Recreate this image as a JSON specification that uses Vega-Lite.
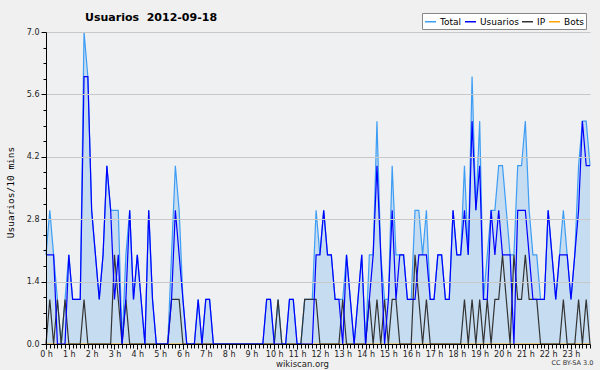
{
  "$schema": "https://vega.github.io/schema/vega-lite/v6.json",
  "width": 544,
  "height": 312,
  "autosize": {"type": "none"},
  "padding": {"left": 46, "top": 32, "right": 10, "bottom": 26},
  "background": "#f0f0f0",
  "config": {
    "view": {"fill": "#eef0f2", "stroke": null},
    "font": "DejaVu Sans"
  },
  "title": {
    "text": "Usuarios\u00a0 2012-09-18",
    "anchor": "start",
    "frame": "group",
    "dx": 39,
    "dy": 19,
    "offset": 9,
    "fontSize": 11,
    "font": "DejaVu Sans",
    "fontWeight": "bold",
    "color": "#000000"
  },
  "data": {
    "values": [
      {"t":0,"Total":2,"Usuarios":2,"IP":0,"Bots":0},
      {"t":1,"Total":3,"Usuarios":2,"IP":1,"Bots":0},
      {"t":2,"Total":2,"Usuarios":2,"IP":0,"Bots":0},
      {"t":3,"Total":1,"Usuarios":0,"IP":1,"Bots":0},
      {"t":4,"Total":0,"Usuarios":0,"IP":0,"Bots":0},
      {"t":5,"Total":1,"Usuarios":0,"IP":1,"Bots":0},
      {"t":6,"Total":2,"Usuarios":2,"IP":0,"Bots":0},
      {"t":7,"Total":1,"Usuarios":1,"IP":0,"Bots":0},
      {"t":8,"Total":1,"Usuarios":1,"IP":0,"Bots":0},
      {"t":9,"Total":1,"Usuarios":1,"IP":0,"Bots":0},
      {"t":10,"Total":7,"Usuarios":6,"IP":1,"Bots":0},
      {"t":11,"Total":6,"Usuarios":6,"IP":0,"Bots":0},
      {"t":12,"Total":3,"Usuarios":3,"IP":0,"Bots":0},
      {"t":13,"Total":2,"Usuarios":2,"IP":0,"Bots":0},
      {"t":14,"Total":1,"Usuarios":1,"IP":0,"Bots":0},
      {"t":15,"Total":2,"Usuarios":2,"IP":0,"Bots":0},
      {"t":16,"Total":4,"Usuarios":4,"IP":0,"Bots":0},
      {"t":17,"Total":3,"Usuarios":3,"IP":0,"Bots":0},
      {"t":18,"Total":3,"Usuarios":1,"IP":2,"Bots":0},
      {"t":19,"Total":3,"Usuarios":2,"IP":1,"Bots":0},
      {"t":20,"Total":0,"Usuarios":0,"IP":0,"Bots":0},
      {"t":21,"Total":2,"Usuarios":1,"IP":1,"Bots":0},
      {"t":22,"Total":3,"Usuarios":3,"IP":0,"Bots":0},
      {"t":23,"Total":1,"Usuarios":1,"IP":0,"Bots":0},
      {"t":24,"Total":2,"Usuarios":2,"IP":0,"Bots":0},
      {"t":25,"Total":1,"Usuarios":1,"IP":0,"Bots":0},
      {"t":26,"Total":0,"Usuarios":0,"IP":0,"Bots":0},
      {"t":27,"Total":3,"Usuarios":3,"IP":0,"Bots":0},
      {"t":28,"Total":1,"Usuarios":1,"IP":0,"Bots":0},
      {"t":29,"Total":0,"Usuarios":0,"IP":0,"Bots":0},
      {"t":30,"Total":0,"Usuarios":0,"IP":0,"Bots":0},
      {"t":31,"Total":0,"Usuarios":0,"IP":0,"Bots":0},
      {"t":32,"Total":0,"Usuarios":0,"IP":0,"Bots":0},
      {"t":33,"Total":2,"Usuarios":1,"IP":1,"Bots":0},
      {"t":34,"Total":4,"Usuarios":3,"IP":1,"Bots":0},
      {"t":35,"Total":3,"Usuarios":2,"IP":1,"Bots":0},
      {"t":36,"Total":1,"Usuarios":1,"IP":0,"Bots":0},
      {"t":37,"Total":0,"Usuarios":0,"IP":0,"Bots":0},
      {"t":38,"Total":0,"Usuarios":0,"IP":0,"Bots":0},
      {"t":39,"Total":0,"Usuarios":0,"IP":0,"Bots":0},
      {"t":40,"Total":1,"Usuarios":1,"IP":0,"Bots":0},
      {"t":41,"Total":0,"Usuarios":0,"IP":0,"Bots":0},
      {"t":42,"Total":1,"Usuarios":1,"IP":0,"Bots":0},
      {"t":43,"Total":1,"Usuarios":1,"IP":0,"Bots":0},
      {"t":44,"Total":0,"Usuarios":0,"IP":0,"Bots":0},
      {"t":45,"Total":0,"Usuarios":0,"IP":0,"Bots":0},
      {"t":46,"Total":0,"Usuarios":0,"IP":0,"Bots":0},
      {"t":47,"Total":0,"Usuarios":0,"IP":0,"Bots":0},
      {"t":48,"Total":0,"Usuarios":0,"IP":0,"Bots":0},
      {"t":49,"Total":0,"Usuarios":0,"IP":0,"Bots":0},
      {"t":50,"Total":0,"Usuarios":0,"IP":0,"Bots":0},
      {"t":51,"Total":0,"Usuarios":0,"IP":0,"Bots":0},
      {"t":52,"Total":0,"Usuarios":0,"IP":0,"Bots":0},
      {"t":53,"Total":0,"Usuarios":0,"IP":0,"Bots":0},
      {"t":54,"Total":0,"Usuarios":0,"IP":0,"Bots":0},
      {"t":55,"Total":0,"Usuarios":0,"IP":0,"Bots":0},
      {"t":56,"Total":0,"Usuarios":0,"IP":0,"Bots":0},
      {"t":57,"Total":0,"Usuarios":0,"IP":0,"Bots":0},
      {"t":58,"Total":1,"Usuarios":1,"IP":0,"Bots":0},
      {"t":59,"Total":1,"Usuarios":1,"IP":0,"Bots":0},
      {"t":60,"Total":0,"Usuarios":0,"IP":0,"Bots":0},
      {"t":61,"Total":1,"Usuarios":0,"IP":1,"Bots":0},
      {"t":62,"Total":0,"Usuarios":0,"IP":0,"Bots":0},
      {"t":63,"Total":0,"Usuarios":0,"IP":0,"Bots":0},
      {"t":64,"Total":1,"Usuarios":1,"IP":0,"Bots":0},
      {"t":65,"Total":1,"Usuarios":1,"IP":0,"Bots":0},
      {"t":66,"Total":0,"Usuarios":0,"IP":0,"Bots":0},
      {"t":67,"Total":0,"Usuarios":0,"IP":0,"Bots":0},
      {"t":68,"Total":1,"Usuarios":0,"IP":1,"Bots":0},
      {"t":69,"Total":1,"Usuarios":0,"IP":1,"Bots":0},
      {"t":70,"Total":1,"Usuarios":0,"IP":1,"Bots":0},
      {"t":71,"Total":3,"Usuarios":2,"IP":1,"Bots":0},
      {"t":72,"Total":2,"Usuarios":2,"IP":0,"Bots":0},
      {"t":73,"Total":3,"Usuarios":3,"IP":0,"Bots":0},
      {"t":74,"Total":2,"Usuarios":2,"IP":0,"Bots":0},
      {"t":75,"Total":2,"Usuarios":2,"IP":0,"Bots":0},
      {"t":76,"Total":1,"Usuarios":1,"IP":0,"Bots":0},
      {"t":77,"Total":1,"Usuarios":1,"IP":0,"Bots":0},
      {"t":78,"Total":1,"Usuarios":0,"IP":1,"Bots":0},
      {"t":79,"Total":2,"Usuarios":2,"IP":0,"Bots":0},
      {"t":80,"Total":1,"Usuarios":1,"IP":0,"Bots":0},
      {"t":81,"Total":0,"Usuarios":0,"IP":0,"Bots":0},
      {"t":82,"Total":1,"Usuarios":1,"IP":0,"Bots":0},
      {"t":83,"Total":2,"Usuarios":2,"IP":0,"Bots":0},
      {"t":84,"Total":0,"Usuarios":0,"IP":0,"Bots":0},
      {"t":85,"Total":2,"Usuarios":1,"IP":1,"Bots":0},
      {"t":86,"Total":2,"Usuarios":2,"IP":0,"Bots":0},
      {"t":87,"Total":5,"Usuarios":4,"IP":1,"Bots":0},
      {"t":88,"Total":2,"Usuarios":2,"IP":0,"Bots":0},
      {"t":89,"Total":1,"Usuarios":0,"IP":1,"Bots":0},
      {"t":90,"Total":1,"Usuarios":1,"IP":0,"Bots":0},
      {"t":91,"Total":4,"Usuarios":3,"IP":1,"Bots":0},
      {"t":92,"Total":2,"Usuarios":1,"IP":1,"Bots":0},
      {"t":93,"Total":2,"Usuarios":2,"IP":0,"Bots":0},
      {"t":94,"Total":2,"Usuarios":2,"IP":0,"Bots":0},
      {"t":95,"Total":1,"Usuarios":1,"IP":0,"Bots":0},
      {"t":96,"Total":1,"Usuarios":1,"IP":0,"Bots":0},
      {"t":97,"Total":3,"Usuarios":1,"IP":2,"Bots":0},
      {"t":98,"Total":3,"Usuarios":2,"IP":1,"Bots":0},
      {"t":99,"Total":2,"Usuarios":2,"IP":0,"Bots":0},
      {"t":100,"Total":3,"Usuarios":2,"IP":1,"Bots":0},
      {"t":101,"Total":1,"Usuarios":1,"IP":0,"Bots":0},
      {"t":102,"Total":1,"Usuarios":1,"IP":0,"Bots":0},
      {"t":103,"Total":2,"Usuarios":2,"IP":0,"Bots":0},
      {"t":104,"Total":2,"Usuarios":2,"IP":0,"Bots":0},
      {"t":105,"Total":1,"Usuarios":1,"IP":0,"Bots":0},
      {"t":106,"Total":1,"Usuarios":1,"IP":0,"Bots":0},
      {"t":107,"Total":3,"Usuarios":3,"IP":0,"Bots":0},
      {"t":108,"Total":2,"Usuarios":2,"IP":0,"Bots":0},
      {"t":109,"Total":2,"Usuarios":2,"IP":0,"Bots":0},
      {"t":110,"Total":4,"Usuarios":3,"IP":1,"Bots":0},
      {"t":111,"Total":2,"Usuarios":2,"IP":0,"Bots":0},
      {"t":112,"Total":6,"Usuarios":5,"IP":1,"Bots":0},
      {"t":113,"Total":3,"Usuarios":3,"IP":0,"Bots":0},
      {"t":114,"Total":5,"Usuarios":4,"IP":1,"Bots":0},
      {"t":115,"Total":1,"Usuarios":1,"IP":0,"Bots":0},
      {"t":116,"Total":2,"Usuarios":1,"IP":1,"Bots":0},
      {"t":117,"Total":3,"Usuarios":3,"IP":0,"Bots":0},
      {"t":118,"Total":3,"Usuarios":2,"IP":1,"Bots":0},
      {"t":119,"Total":4,"Usuarios":3,"IP":1,"Bots":0},
      {"t":120,"Total":4,"Usuarios":2,"IP":2,"Bots":0},
      {"t":121,"Total":3,"Usuarios":2,"IP":1,"Bots":0},
      {"t":122,"Total":2,"Usuarios":2,"IP":0,"Bots":0},
      {"t":123,"Total":2,"Usuarios":0,"IP":2,"Bots":0},
      {"t":124,"Total":4,"Usuarios":3,"IP":1,"Bots":0},
      {"t":125,"Total":4,"Usuarios":3,"IP":1,"Bots":0},
      {"t":126,"Total":5,"Usuarios":3,"IP":2,"Bots":0},
      {"t":127,"Total":3,"Usuarios":2,"IP":1,"Bots":0},
      {"t":128,"Total":2,"Usuarios":1,"IP":1,"Bots":0},
      {"t":129,"Total":2,"Usuarios":1,"IP":1,"Bots":0},
      {"t":130,"Total":1,"Usuarios":1,"IP":0,"Bots":0},
      {"t":131,"Total":1,"Usuarios":1,"IP":0,"Bots":0},
      {"t":132,"Total":3,"Usuarios":3,"IP":0,"Bots":0},
      {"t":133,"Total":2,"Usuarios":2,"IP":0,"Bots":0},
      {"t":134,"Total":1,"Usuarios":1,"IP":0,"Bots":0},
      {"t":135,"Total":2,"Usuarios":2,"IP":0,"Bots":0},
      {"t":136,"Total":3,"Usuarios":2,"IP":1,"Bots":0},
      {"t":137,"Total":2,"Usuarios":2,"IP":0,"Bots":0},
      {"t":138,"Total":1,"Usuarios":1,"IP":0,"Bots":0},
      {"t":139,"Total":2,"Usuarios":2,"IP":0,"Bots":0},
      {"t":140,"Total":4,"Usuarios":3,"IP":1,"Bots":0},
      {"t":141,"Total":5,"Usuarios":5,"IP":0,"Bots":0},
      {"t":142,"Total":5,"Usuarios":4,"IP":1,"Bots":0},
      {"t":143,"Total":4,"Usuarios":4,"IP":0,"Bots":0}
    ]
  },
  "transform": [{"fold": ["Bots", "Total", "IP", "Usuarios"], "as": ["serie", "v"]}],
  "encoding": {
    "y": {
      "field": "v",
      "type": "quantitative",
      "scale": {"domain": [0, 7], "nice": false},
      "axis": {
        "values": [0, 0.35, 0.7, 1.05, 1.4, 1.75, 2.1, 2.45, 2.8, 3.15, 3.5, 3.85, 4.2, 4.55, 4.9, 5.25, 5.6, 5.95, 6.3, 6.65, 7],
        "labelExpr": "abs(datum.value/1.4 - round(datum.value/1.4)) < 0.01 ? format(datum.value, '.1f') : ''",
        "gridOpacity": {"condition": {"test": "abs(datum.value/1.4 - round(datum.value/1.4)) < 0.01", "value": 1}, "value": 0},
        "tickSize": {"condition": {"test": "abs(datum.value/1.4 - round(datum.value/1.4)) < 0.01", "value": 5}, "value": 3},
        "gridColor": "#c8c8c8",
        "domainColor": "#000000",
        "tickColor": "#000000",
        "labelFontSize": 8,
        "labelColor": "#222222",
        "labelPadding": 2,
        "labelOverlap": false,
        "labelFlush": false,
        "title": "Usuarios/10 mins",
        "titleFont": "DejaVu Sans Mono",
        "titleFontSize": 9.5,
        "titleFontWeight": "normal",
        "titleColor": "#000000",
        "titleX": -36,
        "titleY": 160,
        "titleAngle": -90,
        "titleAlign": "center",
        "titleBaseline": "middle",
        "zindex": 1
      }
    }
  },
  "layer": [
    {
      "transform": [{"filter": "datum.serie == 'Total'"}],
      "mark": {"type": "area", "color": "#c6dcf1", "interpolate": "linear"},
      "encoding": {
        "x": {
          "field": "t",
          "type": "quantitative",
          "scale": {"domain": [0, 143], "nice": false, "zero": false},
          "axis": {
            "orient": "bottom",
            "domain": false,
            "ticks": false,
            "labels": false,
            "grid": false,
            "title": "CC BY-SA 3.0",
            "titleFontSize": 6.5,
            "titleFontWeight": "normal",
            "titleColor": "#333333",
            "titleX": 526,
            "titleY": 18,
            "titleAlign": "center",
            "titleBaseline": "middle"
          }
        }
      }
    },
    {
      "mark": {"type": "line", "strokeWidth": 1.2, "interpolate": "linear"},
      "encoding": {
        "x": {
          "field": "t",
          "type": "quantitative",
          "scale": {"domain": [0, 143], "nice": false, "zero": false},
          "axis": {
            "orient": "bottom",
            "values": [0,1,2,3,4,5,6,7,8,9,10,11,12,13,14,15,16,17,18,19,20,21,22,23,24,25,26,27,28,29,30,31,32,33,34,35,36,37,38,39,40,41,42,43,44,45,46,47,48,49,50,51,52,53,54,55,56,57,58,59,60,61,62,63,64,65,66,67,68,69,70,71,72,73,74,75,76,77,78,79,80,81,82,83,84,85,86,87,88,89,90,91,92,93,94,95,96,97,98,99,100,101,102,103,104,105,106,107,108,109,110,111,112,113,114,115,116,117,118,119,120,121,122,123,124,125,126,127,128,129,130,131,132,133,134,135,136,137,138,139,140,141,142,143],
            "labelExpr": "datum.value % 6 == 0 ? (datum.value / 6) + ' h' : ''",
            "tickSize": {"condition": {"test": "datum.value % 6 == 0", "value": 5}, "value": 4},
            "grid": false,
            "domainColor": "#000000",
            "tickColor": "#000000",
            "labelFontSize": 8,
            "labelColor": "#222222",
            "labelPadding": 1,
            "labelOverlap": false,
            "labelFlush": false,
            "labelBound": false,
            "title": "wikiscan.org",
            "titleFontSize": 8.5,
            "titleFontWeight": "normal",
            "titleColor": "#222222",
            "titleX": 256,
            "titleY": 19,
            "titleAlign": "center",
            "titleBaseline": "middle",
            "zindex": 1
          }
        },
        "color": {
          "field": "serie",
          "type": "nominal",
          "scale": {"domain": ["Total", "Usuarios", "IP", "Bots"], "range": ["#3d9df5", "#0000ff", "#333333", "#ffa500"]},
          "legend": {
            "orient": "none",
            "legendX": 376,
            "legendY": -19,
            "direction": "horizontal",
            "title": null,
            "symbolType": "stroke",
            "symbolStrokeWidth": 1.5,
            "symbolSize": 121,
            "labelFontSize": 9,
            "labelFont": "DejaVu Sans",
            "labelColor": "#000000",
            "labelOffset": 3,
            "columnPadding": 0,
            "fillColor": "#ffffff",
            "strokeColor": "#888888",
            "padding": 2
          }
        }
      }
    }
  ],
  "resolve": {"axis": {"x": "independent"}}
}
